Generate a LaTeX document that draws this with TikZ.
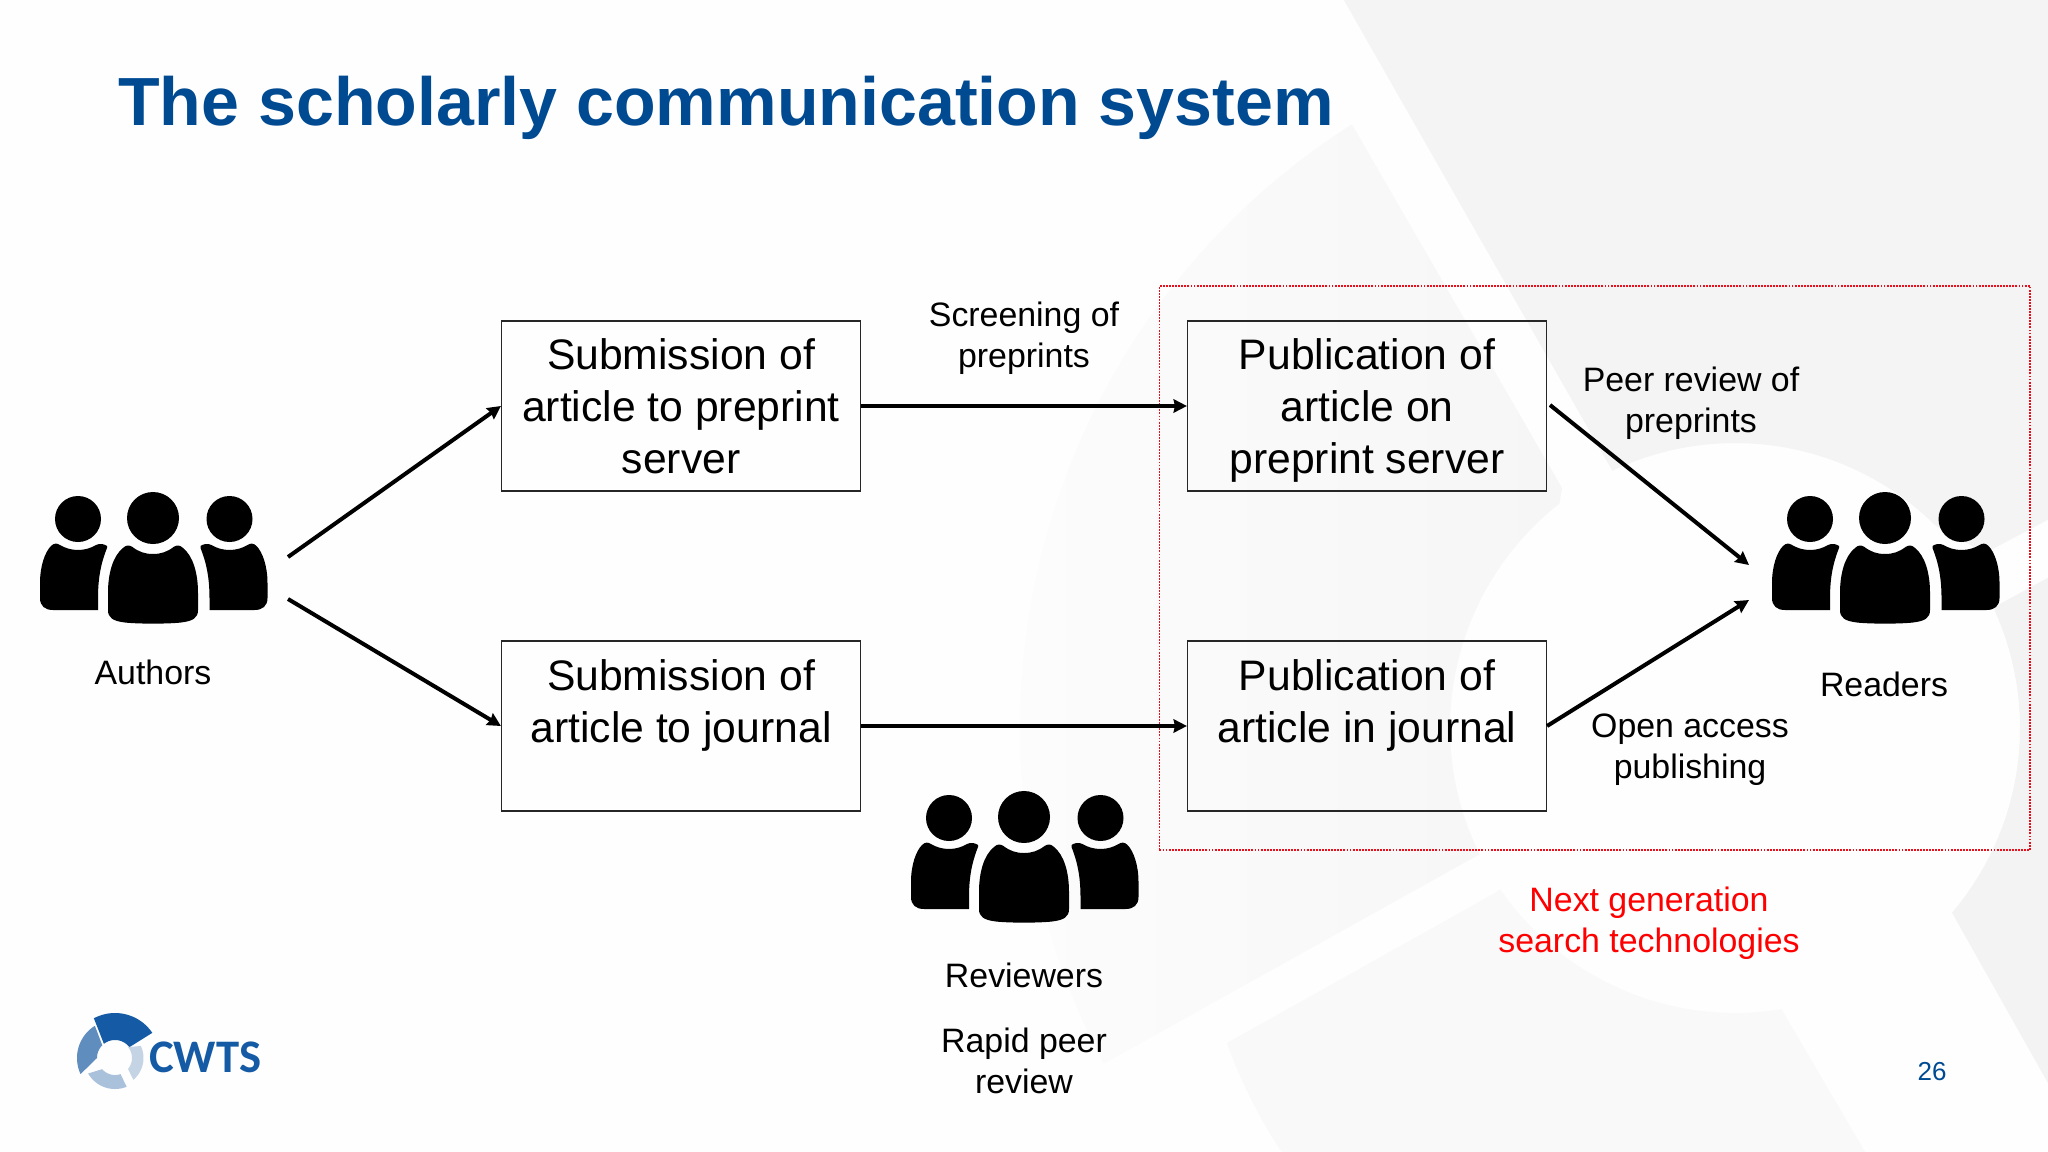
\documentclass[tikz,border=0pt]{standalone}
\usepackage{fontspec}
\setmainfont{Liberation Sans}
\newfontfamily\logofont{Carlito}
\usetikzlibrary{arrows.meta}
\definecolor{titleblue}{HTML}{004A92}
\definecolor{wmA}{HTML}{F4F4F5}
\definecolor{wmB}{HTML}{F9F9FA}
\definecolor{wmBa}{HTML}{FCFCFD}
\definecolor{wmBb}{HTML}{F6F6F6}
\definecolor{wmC}{HTML}{F3F3F4}
\definecolor{pagebg}{HTML}{FEFEFE}
\definecolor{logoA}{HTML}{155AA4}
\definecolor{logoB}{HTML}{5F8DBE}
\definecolor{logoC}{HTML}{A9C1DB}
\definecolor{logoD}{HTML}{C5D4E5}
\definecolor{redline}{HTML}{E8101C}
\newcommand{\ringseg}[9]{% colour cx cy Ro a1 a2 Ri b1 b2
  \fill[#1] plot[domain=#5:#6,samples=30] ({#2+#4*cos(\x)},{#3+#4*sin(\x)})
  -- plot[domain=#9:#8,samples=30] ({#2+#7*cos(\x)},{#3+#7*sin(\x)}) -- cycle;}
\tikzset{
  boxnode/.style={draw=black!85,line width=1.1pt,inner sep=0pt,minimum width=269pt,align=center,
    font=\fontsize{32}{38.7}\selectfont},
  threelines/.style={boxnode,text height=114pt,text depth=13.5pt},
  twolines/.style={boxnode,text height=75.75pt,text depth=51.75pt},
  lab/.style={inner sep=0pt,align=center,anchor=base,font=\fontsize{25.4}{30.4}\selectfont},
  flow/.style={line width=3pt,-{Stealth[length=10pt,width=10pt,inset=1pt]}},
  diag/.style={line width=3pt,-{Stealth[length=10pt,width=10pt,inset=1pt]}},
  peopleicon/.pic={
    \fill (0,0) circle[radius=26];
    \fill (-21,28.7) .. controls (-14,34) and (-8,36) .. (0,36) .. controls (8,36) and (14,34) .. (21,28.7)
      .. controls (24,27) and (27,27) .. (30,30) .. controls (40,38) and (45,55) .. (45,75) -- (45,92)
      .. controls (45,100) and (40,103) .. (28,104.5) .. controls (15,106) and (-15,106) .. (-28,104.5)
      .. controls (-40,103) and (-45,100) .. (-45,92) -- (-45,75) .. controls (-45,55) and (-40,38) .. (-30,30)
      .. controls (-27,27) and (-24,27) .. (-21,28.7) -- cycle;
    \foreach \s/\d in {1/0,-1/1.5}{
      \begin{scope}[shift={(\d,0)},xscale=\s]
        \fill (-75,1) circle[radius=23];
        \fill (-46,30) .. controls (-52,45) and (-55,60) .. (-55,80) -- (-55,92) -- (-100,92)
          .. controls (-108,92) and (-113,88) .. (-113,80) -- (-113,65)
          .. controls (-113,48) and (-108,34) .. (-102,28) .. controls (-99,25) and (-96,25) .. (-93,27)
          .. controls (-88,30) and (-82,32) .. (-75,32) .. controls (-68,32) and (-62,30) .. (-57,27)
          .. controls (-53,25) and (-49,26) .. (-46,28) -- cycle;
      \end{scope}}
  }
}
\begin{document}
\begin{tikzpicture}[x=0.75pt,y=-0.75pt]
\useasboundingbox (0,0) rectangle (2048,1152);
\fill[pagebg] (0,0) rectangle (2048,1152);
% watermark
\begin{scope}
\clip (0,0) rectangle (2048,1152);
\fill[wmA] (1341,-5) -- (2053,-5) -- (2053,517) -- (1985,553) -- plot[domain=-45:-115.5,samples=30] ({1735+285*cos(\x)},{728+285*sin(\x)}) -- cycle;
\shade[left color=wmBa,right color=wmBb] plot[domain=237.6:152,samples=50] ({1735+715*cos(\x)},{728+715*sin(\x)})
  -- plot[domain=153.7:232,samples=30] ({1735+285*cos(\x)},{728+285*sin(\x)}) -- (1562,488) -- cycle;
\fill[wmB] (1495,893) -- (1227,1043) .. controls (1240,1080) and (1260,1120) .. (1285,1157) -- (1868,1157) -- (1782,1010)
  -- plot[domain=80.5:145.5,samples=30] ({1735+285*cos(\x)},{728+285*sin(\x)}) -- cycle;
\fill[wmC] (2053,575) -- plot[domain=-25:40.4,samples=30] ({1735+285*cos(\x)},{728+285*sin(\x)}) -- (2053,1092) -- cycle;
\end{scope}
% title and page number
\node[inner sep=0pt,anchor=base west,text=titleblue,font=\fontsize{51.1}{60}\selectfont\bfseries] (title) at (118,126) {The scholarly communication system};
\node[inner sep=0pt,anchor=base,text=titleblue,font=\fontsize{19.5}{24}\selectfont] (pagenum) at (1932,1080) {26};
% logo
\ringseg{logoA}{115}{1058}{45}{-118}{-34}{18}{-128}{-37}
\ringseg{logoB}{115}{1058}{38}{155}{238}{18}{180}{225}
\ringseg{logoC}{115}{1058}{31}{68}{150}{17}{71}{139}
\ringseg{logoD}{115}{1058}{28.5}{-25}{50}{17}{-40}{40}
\node[inner sep=0pt,anchor=base west,text=logoA,font=\fontsize{35}{40}\selectfont\logofont\bfseries] (logo) at (149,1072.7) {CWTS};
% red frame
\node[draw=redline,line width=1.4pt,dash pattern=on 1.4pt off 0.9pt,inner sep=0pt,minimum width=653pt,minimum height=423pt,anchor=north west] (frame) at (1158.5,285) {};
% boxes
\node[threelines] (b1) at (681,406) {Submission of\\article to preprint\\server};
\node[twolines] (b2) at (681,726) {Submission of\\article to journal};
\node[threelines] (b3) at (1367,406) {Publication of\\article on\\preprint server};
\node[twolines] (b4) at (1367,726) {Publication of\\article in journal};
% people
\pic (authors) at (153,518) {peopleicon};
\pic (readers) at (1885,518) {peopleicon};
\pic (reviewers) at (1024,817) {peopleicon};
% labels
\node[lab] (lauth) at (153,684) {Authors};
\node[lab] (lread) at (1884,696) {Readers};
\node[lab] (lrev) at (1024,987) {Reviewers};
\node[lab] (lrapid) at (1024,1093) {Rapid peer\\review};
\node[lab] (lscr) at (1024,367.5) {Screening of\\preprints};
\node[lab] (lpeer) at (1691,432) {Peer review of\\preprints};
\node[lab] (lopen) at (1690,778) {Open access\\publishing};
\node[lab,text=red] (lnext) at (1649,952) {Next generation\\search technologies};
% connectors
\coordinate (a1) at (288,557);
\coordinate (a2) at (288,599);
\coordinate (r1) at (1550,405);
\coordinate (r1e) at (1749,565);
\coordinate (r2e) at (1749,600);
\draw[flow] (b1.east) -- (b3.west);
\draw[flow] (b2.east) -- (b4.west);
\draw[diag] (a1) -- (b1.west);
\draw[diag] (a2) -- (b2.west);
\draw[diag] (r1) -- (r1e);
\draw[diag] (b4.east) -- (r2e);
\end{tikzpicture}
\end{document}
